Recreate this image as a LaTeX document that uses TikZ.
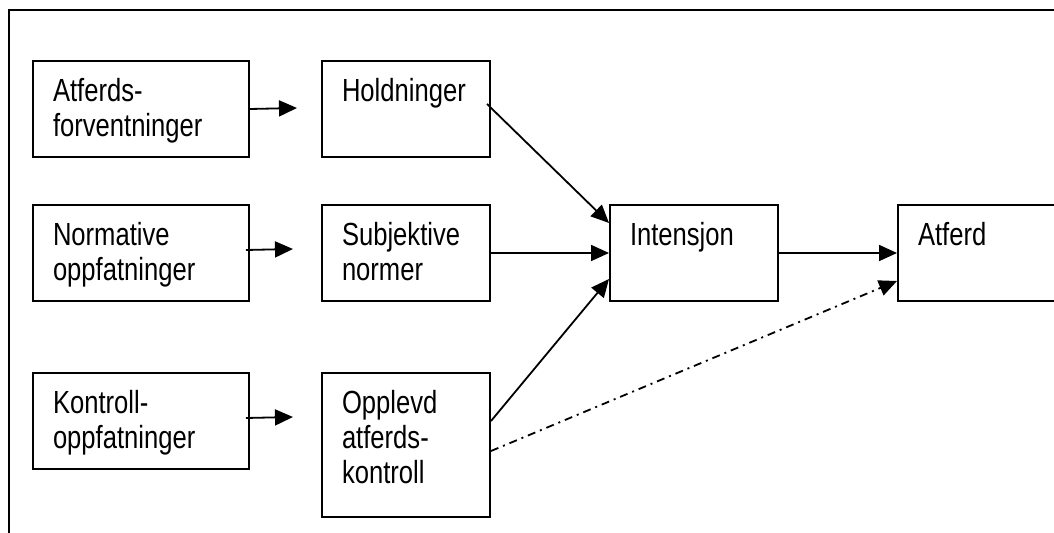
\documentclass[tikz,border=0pt]{standalone}
\usepackage{fontspec}
\setmainfont{Liberation Sans}[FakeStretch=0.8]
\usetikzlibrary{arrows.meta}
\tikzset{
  boks/.style={draw,line width=1pt,anchor=north west,inner xsep=10pt,inner ysep=0pt,
    align=left,text height=20.5pt,text depth=27.5pt,font=\fontsize{16}{17.5}\selectfont},
  bred/.style={boks,text width=88pt},
  smal/.style={boks,text width=64pt},
  pil/.style={line width=.9pt,-{Triangle[length=9pt,width=8pt]}}
}
\begin{document}
\begin{tikzpicture}[x=.5pt,y=-.5pt]
\useasboundingbox (0,0) rectangle (1054,533);
\draw[line width=1pt] (9,533) -- (9,10) -- (1054,10);

\node[bred] (atf) at (32,60) {Atferds-\\forventninger};
\node[bred] (nor) at (32,204) {Normative\\oppfatninger};
\node[bred] (kon) at (32,372) {Kontroll-\\oppfatninger};
\node[smal] (hol) at (321,60) {Holdninger};
\node[smal] (sub) at (321,204) {Subjektive\\normer};
\node[smal,text depth=51.5pt] (opp) at (321,372) {Opplevd\\atferds-\\kontroll};
\node[smal] (int) at (609,204) {Intensjon};
\node[smal] (atd) at (897,204) {Atferd};

\coordinate (c1) at (297,108);
\coordinate (c2) at (293,249);
\coordinate (c3) at (293,417);
\draw[pil] (atf.east) -- (c1);
\draw[pil] ([xshift=-2pt,yshift=1.5pt]nor.east) -- (c2);
\draw[pil] ([xshift=-2pt,yshift=1.5pt]kon.east) -- (c3);

\draw[pil] ([xshift=-2pt,yshift=2.5pt]hol.east) -- ([yshift=15pt]int.west);
\draw[pil] (sub.east) -- (int.west);
\draw[pil] ([yshift=12pt]opp.east) -- ([yshift=-13pt]int.west);
\draw[pil] (int.east) -- (atd.west);
\draw[pil,dash pattern=on 4pt off 2.5pt on 1pt off 2.5pt] ([yshift=-3pt]opp.east) -- ([yshift=-14pt]atd.west);
\end{tikzpicture}
\end{document}
